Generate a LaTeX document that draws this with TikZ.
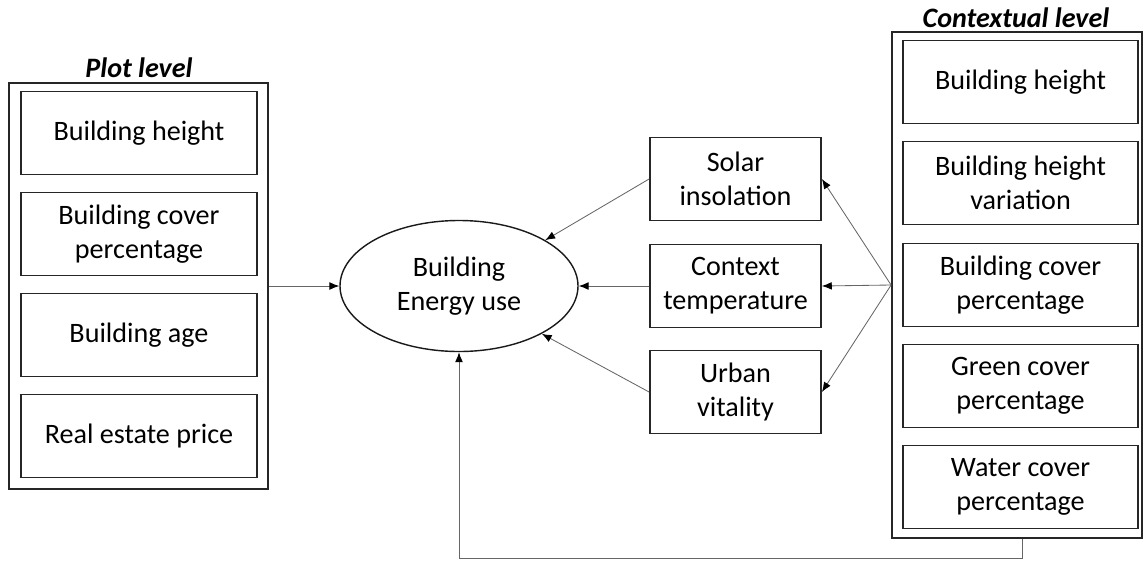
\documentclass[tikz,border=0pt]{standalone}
\usepackage{fontspec}
\setmainfont{Carlito}
\usetikzlibrary{arrows.meta,shapes.geometric,positioning,calc}
\newcommand{\px}{0.025cm}
\tikzset{
    boxsty/.style={draw=black!85,line width=1.3pt,fill=white,rectangle,minimum width=236*\px,minimum height=83*\px,align=center,inner sep=2pt,font=\fontsize{20}{24}\selectfont},
    midsty/.style={boxsty,minimum width=171*\px},
    outsty/.style={draw=black!85,line width=1.3pt,rectangle,inner sep=0pt},
    ellsty/.style={draw=black!90,line width=1pt,ellipse,minimum width=238*\px,minimum height=131*\px,inner sep=0pt,align=center,font=\fontsize{20}{24}\selectfont},
    titlesty/.style={font=\fontsize{20}{24}\selectfont\bfseries\itshape,inner sep=0pt},
    arrsty/.style={draw=black!60,line width=0.6pt,-{Latex[length=7pt,width=5.5pt,color=black]}},
}

\begin{document}
\begin{tikzpicture}[x=\px,y=-\px]
  \useasboundingbox (0,0) rectangle (1143,567);

  % plot level
  \node[outsty,minimum width=259*\px,minimum height=406*\px] (plotbox) at (138.5,286) {};
  \node[titlesty] (plottitle) at (139,68) {Plot level};
  \node[boxsty] (p1) at (139,133) {Building height};
  \node[boxsty] (p2) at (139,234) {Building cover\\percentage};
  \node[boxsty] (p3) at (139,335) {Building age};
  \node[boxsty] (p4) at (139,436) {Real estate price};

  % contextual level
  \node[outsty,minimum width=250*\px,minimum height=506*\px] (ctxbox) at (1017,285) {};
  \node[titlesty] (ctxtitle) at (1016,18) {Contextual level};
  \node[boxsty,minimum width=235*\px] (c1) at (1020.5,82) {Building height};
  \node[boxsty,minimum width=235*\px] (c2) at (1020.5,183) {Building height\\variation};
  \node[boxsty,minimum width=235*\px] (c3) at (1020.5,285) {Building cover\\percentage};
  \node[boxsty,minimum width=235*\px] (c4) at (1020.5,386) {Green cover\\percentage};
  \node[boxsty,minimum width=235*\px] (c5) at (1020.5,487) {Water cover\\percentage};

  % mediators
  \node[midsty] (solar) at (735.5,179) {Solar\\insolation};
  \node[midsty] (temp) at (735.5,286) {Context\\temperature};
  \node[midsty] (urban) at (735.5,392) {Urban\\vitality};

  % outcome
  \node[ellsty] (eu) at (459,286) {Building\\Energy use};

  \coordinate (fan) at (ctxbox.west);

  \draw[arrsty] (plotbox.east) -- (eu.west);
  \draw[arrsty] (solar.west) -- (eu.28);
  \draw[arrsty] (temp.west) -- (eu.east);
  \draw[arrsty] (urban.west) -- (eu.-30);
  \draw[arrsty] (fan) -- (solar.east);
  \draw[arrsty] (fan) -- (temp.east);
  \draw[arrsty] (fan) -- (urban.east);
  \draw[arrsty] ([xshift=5*\px]ctxbox.south) -- ++(0,19) -| (eu.south);
\end{tikzpicture}
\end{document}
